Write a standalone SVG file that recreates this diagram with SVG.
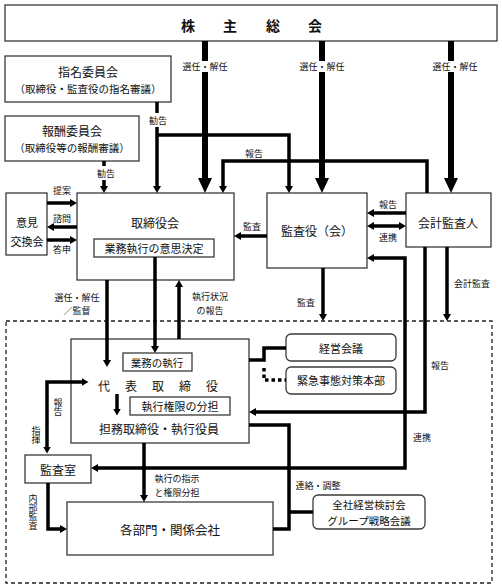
<svg xmlns="http://www.w3.org/2000/svg" width="502" height="588" viewBox="0 0 502 588">
<style>
.box{fill:#fff;stroke:#3a3a3a;stroke-width:1.3}
.rbox{fill:#fff;stroke:#3a3a3a;stroke-width:1.3}
.ln{fill:none;stroke:#000;stroke-width:3.5}
.thick{fill:none;stroke:#000;stroke-width:6}
.dot{fill:none;stroke:#000;stroke-width:3.5;stroke-dasharray:3.5 3}
.frame{fill:none;stroke:#222;stroke-width:1.3;stroke-dasharray:4 3}
text{font-family:"Noto Sans CJK JP","Noto Sans CJK SC",sans-serif;fill:#111;text-anchor:middle;dominant-baseline:central}
.t14{font-size:14px;font-weight:bold}
.t12{font-size:12px}
.t11{font-size:11px}
.t105{font-size:10.5px}
.lb{font-size:9px}
.vt{font-size:9px;writing-mode:vertical-rl}
</style>
<defs>
<marker id="ah" viewBox="0 0 7 8" refX="2.5" refY="4" markerWidth="7" markerHeight="8" markerUnits="userSpaceOnUse" orient="auto-start-reverse"><path d="M0,0 L7,4 L0,8 z" fill="#000"/></marker>
<marker id="ahb" viewBox="0 0 15 14" refX="7" refY="7" markerWidth="15" markerHeight="14" markerUnits="userSpaceOnUse" orient="auto"><path d="M0,0 L15,7 L0,14 z" fill="#000"/></marker>
</defs>

<rect class="frame" x="6" y="321" width="486" height="262"/>

<g id="shareholders">
<rect class="box" x="5" y="5" width="492" height="36"/>
<text class="t14" x="188 230 273 315" y="25">株主総会</text>
</g>
<g id="nomination">
<rect class="box" x="5" y="56" width="166" height="46"/>
<text class="t12" x="88" y="71">指名委員会</text>
<text class="t105" x="88" y="88.5">（取締役・監査役の指名審議）</text>
</g>
<g id="remuneration">
<rect class="box" x="5" y="116" width="134" height="45"/>
<text class="t12" x="72" y="130.5">報酬委員会</text>
<text class="t105" x="72" y="147.5">（取締役等の報酬審議）</text>
</g>
<g id="exchange">
<rect class="box" x="6" y="193" width="41" height="62"/>
<text class="t11"><tspan x="27" y="222">意見</tspan><tspan x="27" y="241">交換会</tspan></text>
</g>
<g id="board">
<rect class="box" x="77" y="193" width="157" height="87"/>
<text class="t12" x="155" y="222">取締役会</text>
<rect class="box" x="94" y="239" width="120" height="18"/>
<text class="t11" x="154" y="248">業務執行の意思決定</text>
</g>
<g id="kansayaku">
<rect class="box" x="267" y="193" width="100" height="75"/>
<text class="t12" x="317" y="230">監査役（会）</text>
</g>
<g id="accountant">
<rect class="box" x="406" y="193" width="85" height="54"/>
<text class="t12" x="448" y="222">会計監査人</text>
</g>
<g id="representative">
<rect class="box" x="71" y="339" width="178" height="104"/>
<rect class="box" x="123" y="353" width="69" height="18"/>
<text class="t105" x="157" y="362">業務の執行</text>
<text class="t12" x="104 131 158 185 212" y="385">代表取締役</text>
<rect class="box" x="130" y="397" width="100" height="18"/>
<text class="t11" x="180" y="406">執行権限の分担</text>
<text class="t12" x="159" y="428">担務取締役・執行役員</text>
</g>
<g id="management">
<rect class="rbox" x="286" y="334" width="110" height="27" rx="5"/>
<text class="t11" x="341" y="348">経営会議</text>
</g>
<g id="emergency">
<rect class="rbox" x="286" y="367" width="110" height="27" rx="5"/>
<text class="t11" x="341" y="380">緊急事態対策本部</text>
</g>
<g id="auditoffice">
<rect class="box" x="25" y="455" width="66" height="28"/>
<text class="t12" x="58" y="469">監査室</text>
</g>
<g id="departments">
<rect class="box" x="67" y="502" width="206" height="53"/>
<text class="t12" x="170" y="529" style="font-size:12.5px">各部門・関係会社</text>
</g>
<g id="strategy">
<rect class="rbox" x="313" y="495" width="112" height="34" rx="5"/>
<text class="t105"><tspan x="369" y="504.2">全社経営検討会</tspan><tspan x="369" y="519.8">グループ戦略会議</tspan></text>
</g>

<g id="connectors">
<line class="thick" x1="205" y1="41" x2="205" y2="61"/>
<line class="thick" x1="205" y1="72" x2="205" y2="185" marker-end="url(#ahb)"/>
<line class="thick" x1="322" y1="41" x2="322" y2="61"/>
<line class="thick" x1="322" y1="72" x2="322" y2="185" marker-end="url(#ahb)"/>
<line class="thick" x1="451" y1="41" x2="451" y2="61"/>
<line class="thick" x1="451" y1="72" x2="451" y2="185" marker-end="url(#ahb)"/>
<line class="ln" x1="157" y1="102" x2="157" y2="113"/>
<line class="ln" x1="157" y1="127" x2="157" y2="188.5" marker-end="url(#ah)"/>
<polyline class="ln" points="157,135 289,135 289,188.5" marker-end="url(#ah)"/>
<line class="ln" x1="104" y1="161" x2="104" y2="166"/>
<line class="ln" x1="104" y1="180" x2="104" y2="188.5" marker-end="url(#ah)"/>
<polyline class="ln" points="427,193 427,161 223,161 223,188.5" marker-end="url(#ah)"/>
<line class="ln" x1="47" y1="203" x2="72.5" y2="203" marker-end="url(#ah)"/>
<line class="ln" x1="77" y1="227" x2="51.5" y2="227" marker-end="url(#ah)"/>
<line class="ln" x1="47" y1="240" x2="72.5" y2="240" marker-end="url(#ah)"/>
<line class="ln" x1="406" y1="213" x2="371.5" y2="213" marker-end="url(#ah)"/>
<line class="ln" x1="371.5" y1="226" x2="401.5" y2="226" marker-start="url(#ah)" marker-end="url(#ah)"/>
<line class="ln" x1="267" y1="236" x2="238.5" y2="236" marker-end="url(#ah)"/>
<polyline class="ln" points="95.5,468 405,468 405,258 371.5,258" marker-start="url(#ah)" marker-end="url(#ah)"/>
<polyline class="ln" points="425,247 425,412 253.5,412" marker-end="url(#ah)"/>
<line class="ln" x1="323" y1="268" x2="323" y2="316.5" marker-end="url(#ah)"/>
<line class="ln" x1="447" y1="247" x2="447" y2="316.5" marker-end="url(#ah)"/>
<line class="ln" x1="107" y1="280" x2="107" y2="362.5" marker-end="url(#ah)"/>
<line class="ln" x1="155" y1="257" x2="155" y2="348.5" marker-end="url(#ah)"/>
<line class="ln" x1="179" y1="339" x2="179" y2="284.5" marker-end="url(#ah)"/>
<line class="ln" x1="117" y1="394" x2="117" y2="411" marker-end="url(#ah)"/>
<polyline class="ln" points="249,360 264,360 264,348 286,348"/>
<polyline class="dot" points="264,368 264,380 286,380"/>
<line class="ln" x1="144" y1="443" x2="144" y2="497.5" marker-end="url(#ah)"/>
<polyline class="ln" points="249,425 289,425 289,529 273,529"/>
<line class="ln" x1="289" y1="512" x2="313" y2="512"/>
<polyline class="ln" points="47,449 47,382 84,382" marker-start="url(#ah)" marker-end="url(#ah)"/>
<polyline class="ln" points="48,483 48,529 62.5,529" marker-end="url(#ah)"/>
</g>

<g id="labels">
<text class="lb" x="205" y="66">選任・解任</text>
<text class="lb" x="322" y="66">選任・解任</text>
<text class="lb" x="455" y="66">選任・解任</text>
<text class="lb" x="158" y="120">勧告</text>
<text class="lb" x="106" y="173">勧告</text>
<text class="lb" x="254" y="153">報告</text>
<text class="lb" x="62" y="190">提案</text>
<text class="lb" x="62" y="218">諮問</text>
<text class="lb" x="62" y="249">答申</text>
<text class="lb" x="388" y="204">報告</text>
<text class="lb" x="388" y="237">連携</text>
<text class="lb" x="252" y="226">監査</text>
<text class="lb" x="306" y="302">監査</text>
<text class="lb" x="472" y="283">会計監査</text>
<text class="lb" x="440" y="365">報告</text>
<text class="lb" x="422" y="437">連携</text>
<text class="lb"><tspan x="77" y="296.5">選任・解任</tspan><tspan x="77" y="310">／監督</tspan></text>
<text class="lb"><tspan x="210" y="296">執行状況</tspan><tspan x="210" y="309.5">の報告</tspan></text>
<text class="lb"><tspan x="177" y="478">執行の指示</tspan><tspan x="177" y="491.5">と権限分担</tspan></text>
<text class="lb" x="318" y="485">連絡・調整</text>
<text class="vt" x="58" y="407">報告</text>
<text class="vt" x="36" y="435">指揮</text>
<text class="vt" x="33" y="512">内部監査</text>
</g>
</svg>
